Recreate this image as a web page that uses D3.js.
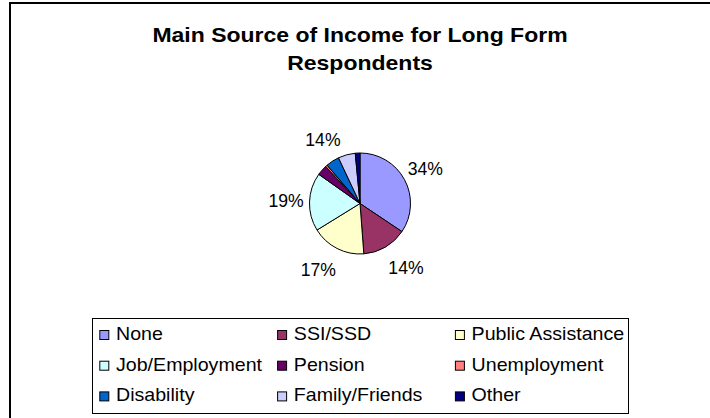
<!DOCTYPE html>
<html>
<head>
<meta charset="utf-8">
<script src="https://cdn.jsdelivr.net/npm/d3@7"></script>
<style>
  html, body { margin: 0; padding: 0; background: #fff; }
  svg { display: block; font-family: "Liberation Sans", Arial, sans-serif; }
</style>
</head>
<body>
<svg id="chart" width="710" height="418"></svg>
<script>
// Income sources, in pie order (clockwise from 12 o'clock)
const categories = ["None", "SSI/SSD", "Public Assistance", "Job/Employment", "Pension",
                    "Unemployment", "Disability", "Family/Friends", "Other"];
const shares = [34.4, 14.4, 17.4, 18.6, 3.3, 0.6, 4.3, 5.5, 1.5];
const sliceColors = ["#9999FF", "#993366", "#FFFFCC", "#CCFFFF", "#660066",
                     "#FF8080", "#0066CC", "#CCCCFF", "#000080"];
// Which slices each percentage label covers
const labelGroups = [[0], [1], [2], [3], [4, 5, 6, 7]];
const titleLines = ["Main Source of Income for Long Form", "Respondents"];

const svg = d3.select("#chart");

// chart area frame
svg.append("rect")
  .attr("x", 10).attr("y", 3)
  .attr("width", 760).attr("height", 480)
  .attr("fill", "#fff").attr("stroke", "#000").attr("stroke-width", 2);

// title
const cxTitle = 360;
titleLines.forEach((t, i) => {
  svg.append("text")
    .attr("transform", `translate(${cxTitle},${41.7 + i * 28.3}) scale(1.15,1)`)
    .attr("text-anchor", "middle")
    .attr("font-weight", "bold")
    .attr("font-size", 20)
    .attr("fill", "#000")
    .text(t);
});

// pie
const cx = 360, cy = 203.5, R = 50.5;
const total = d3.sum(shares);
const pie = d3.pie().sort(null).value(d => d);
const arcs = pie(shares);
const arc = d3.arc().innerRadius(0).outerRadius(R);

const g = svg.append("g").attr("transform", `translate(${cx},${cy})`);
g.selectAll("path.slice")
  .data(arcs)
  .join("path")
  .attr("class", "slice")
  .attr("d", arc)
  .attr("fill", (d, i) => sliceColors[i])
  .attr("stroke", "#000")
  .attr("stroke-width", 1)
  .attr("stroke-linejoin", "round");

// percentage labels
const fmt = v => Math.round(v / total * 100) + "%";
const labelR = 74;
labelGroups.forEach(idx => {
  const a0 = arcs[idx[0]].startAngle;
  const a1 = arcs[idx[idx.length - 1]].endAngle;
  const mid = (a0 + a1) / 2;
  const value = d3.sum(idx, i => shares[i]);
  const s = Math.sin(mid), c = Math.cos(mid);
  const x = labelR * s + 20 * s * Math.max(0, -c);
  const y = -labelR * c;
  g.append("text")
    .attr("x", x).attr("y", y)
    .attr("dy", "0.35em")
    .attr("text-anchor", "middle")
    .attr("font-size", 17.6)
    .attr("fill", "#000")
    .text(fmt(value));
});

// legend
const legend = svg.append("g");
legend.append("rect")
  .attr("x", 92.5).attr("y", 318.5)
  .attr("width", 536).attr("height", 95)
  .attr("fill", "#fff").attr("stroke", "#000").attr("stroke-width", 1);

const colX = d3.scaleBand().domain([0, 1, 2]).range([99.3, 99.3 + 3 * 177.8]);
const rowY = d3.scaleBand().domain([0, 1, 2]).range([330, 330 + 3 * 30.7]);

categories.forEach((name, i) => {
  const col = i % 3, row = Math.floor(i / 3);
  const x = colX(col), y = rowY(row);
  legend.append("rect")
    .attr("x", x + 0.5).attr("y", y + 0.5)
    .attr("width", 9).attr("height", 9)
    .attr("fill", sliceColors[i])
    .attr("stroke", "#000").attr("stroke-width", 1);
  legend.append("text")
    .attr("transform", `translate(${x + 16.7},${y + 9.8}) scale(1.09,1)`)
    .attr("font-size", 18)
    .attr("fill", "#000")
    .text(name);
});
</script>
</body>
</html>
